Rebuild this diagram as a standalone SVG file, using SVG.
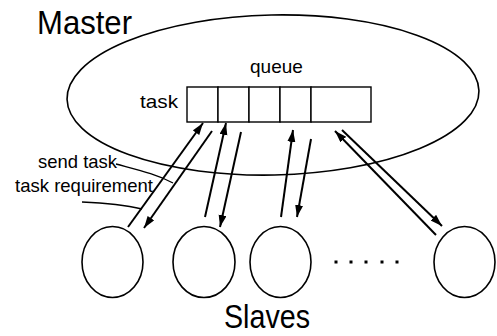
<svg xmlns="http://www.w3.org/2000/svg" width="497" height="336" viewBox="0 0 497 336">
  <style>
    .outline { fill: none; stroke: #000; stroke-width: 1.6; }
    .cell { fill: #fff; stroke: #000; stroke-width: 1.4; }
    .arrow { fill: none; stroke: #000; stroke-width: 2; marker-end: url(#head); }
    .leader { fill: none; stroke: #000; stroke-width: 1.4; }
    .lbl { font-family: "Liberation Sans", Arial, sans-serif; fill: #000; }
    .big { font-size: 34px; }
    .small { font-size: 19px; }
  </style>
  <defs>
    <marker id="head" markerUnits="userSpaceOnUse" markerWidth="14" markerHeight="10" refX="12" refY="4" orient="auto">
      <path d="M0,0 L12,4 L0,8 Z" fill="#000"/>
    </marker>
  </defs>
  <rect width="497" height="336" fill="#fff"/>

  <!-- master process with its task queue -->
  <g id="master">
    <ellipse class="outline" cx="273" cy="95" rx="206" ry="80" transform="rotate(-1.2 273 95)"/>
    <text class="lbl big" x="37" y="34" textLength="95" lengthAdjust="spacingAndGlyphs">Master</text>
  </g>
  <g id="queue">
    <rect class="cell" x="187" y="87" width="31" height="35"/>
    <rect class="cell" x="218" y="87" width="31" height="35"/>
    <rect class="cell" x="249" y="87" width="31" height="35"/>
    <rect class="cell" x="280" y="87" width="31" height="35"/>
    <rect class="cell" x="311" y="87" width="60" height="35"/>
    <text class="lbl small" x="250" y="73">queue</text>
    <text class="lbl small" x="140" y="108" textLength="38" lengthAdjust="spacingAndGlyphs">task</text>
  </g>

  <!-- slave processes -->
  <g id="slave1"><ellipse class="outline" cx="112.5" cy="262" rx="30.5" ry="35.5"/></g>
  <g id="slave2"><ellipse class="outline" cx="204" cy="262" rx="31" ry="35.5"/></g>
  <g id="slave3"><ellipse class="outline" cx="280.5" cy="262" rx="30.5" ry="35.5"/></g>
  <g id="slave4"><ellipse class="outline" cx="464.5" cy="262" rx="30.5" ry="35.5"/></g>
  <g id="ellipsis">
    <rect x="334.5" y="260.5" width="3" height="3"/>
    <rect x="349.5" y="260.5" width="3" height="3"/>
    <rect x="364.5" y="260.5" width="3" height="3"/>
    <rect x="380.5" y="260.5" width="3" height="3"/>
    <rect x="395.5" y="260.5" width="3" height="3"/>
  </g>
  <g id="slaves-label">
    <text class="lbl big" x="224" y="328" textLength="86" lengthAdjust="spacingAndGlyphs">Slaves</text>
  </g>

  <!-- message arrows between master queue and slaves -->
  <g id="connectors">
    <path class="arrow" d="M128,227 L203,123"/>
    <path class="arrow" d="M212,131 L144,228"/>
    <path class="arrow" d="M205,217 L226,123"/>
    <path class="arrow" d="M241,132 L220,227"/>
    <path class="arrow" d="M281,217 L293,130"/>
    <path class="arrow" d="M311,139 L297,217"/>
    <path class="arrow" d="M436,235 L335,131"/>
    <path class="arrow" d="M342,130 L442,226"/>
  </g>

  <!-- arrow annotations -->
  <g id="annotations">
    <text class="lbl small" x="38" y="168" textLength="79" lengthAdjust="spacingAndGlyphs">send task</text>
    <path class="leader" d="M116,164 C138,170 156,174 173,183"/>
    <text class="lbl small" x="15" y="192" textLength="138" lengthAdjust="spacingAndGlyphs">task requirement</text>
    <path class="leader" d="M82,202 C105,203 125,205 142,209"/>
  </g>
</svg>
